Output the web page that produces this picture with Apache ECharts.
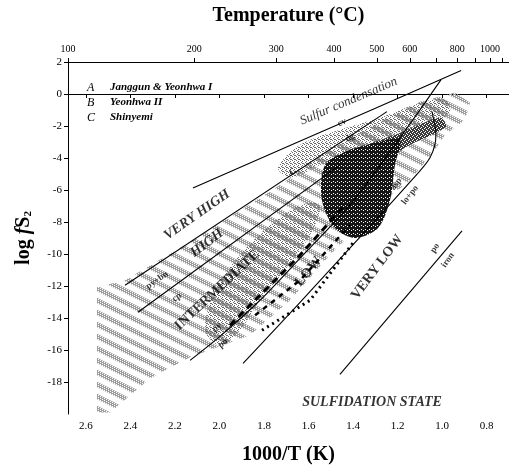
<!DOCTYPE html>
<html>
<head>
<meta charset="utf-8">
<script src="https://cdn.jsdelivr.net/npm/echarts@6/dist/echarts.min.js"></script>
<style>
html, body { margin: 0; padding: 0; background: #fff; }
#chart { width: 509px; height: 472px; }
</style>
</head>
<body>
<div id="chart"></div>
<script>
// axis ticks
const xTicks = [2.6, 2.4, 2.2, 2.0, 1.8, 1.6, 1.4, 1.2, 1.0, 0.8];
const yTicks = [2, 0, -2, -4, -6, -8, -10, -12, -14, -16, -18];
const tempTicks = [100, 200, 300, 400, 500, 600, 700, 800, 900, 1000, 1100];
const tempLabels = [100, 200, 300, 400, 500, 600, 800, 1000];

// boundary lines [1000/T, log fS2]
const sulfurLine = [[2.119, -5.87], [1.31, -0.95], [0.915, 1.47]];
const cvDgLine = [[2.424, -11.95], [1.248, -1.10]];
const pyBnCpLine = [[2.366, -13.64], [1.459, -4.43]];
const pyPoLine = [[2.132, -16.65], [1.998, -15.15], [1.818, -12.89], [1.638, -10.26], [1.414, -6.93], [1.212, -3.17], [1.099, -0.98], [1.005, 0.90]];
const aspLoPoLine = [[1.894, -16.84], [1.638, -13.02], [1.369, -8.94], [1.144, -5.49], [1.055, -3.99], [1.028, -2.55], [1.046, -1.10]];
const poIronLine = [[1.459, -17.53], [0.911, -8.56]];

// fluid paths (dashed)
const pathA = [[1.953, -14.46], [1.638, -10.07], [1.436, -6.93]];
const pathB = [[1.840, -13.83], [1.638, -11.64], [1.414, -8.19]];
const pathC = [[1.809, -14.77], [1.593, -12.89], [1.391, -9.13]];

// fields
const hatchBand = [[2.550, -12.08], [2.424, -11.64], [2.087, -8.88], [1.728, -5.68], [1.504, -3.49], [1.279, -1.73],
  [1.099, -0.48], [0.942, 0.09], [0.875, -0.54], [0.897, -1.61], [0.987, -2.55], [1.032, -3.49], [1.144, -5.37],
  [1.279, -6.93], [1.504, -10.07], [1.683, -12.89], [1.863, -15.08], [2.132, -16.46], [2.312, -17.78],
  [2.491, -19.91], [2.550, -19.91]];
const grayFieldTop = [[1.737, -4.61], [1.638, -3.17], [1.459, -2.23], [1.279, -1.48], [1.099, -0.54], [0.987, -0.35],
  [0.965, -1.10], [1.055, -2.11], [1.189, -2.86], [1.369, -3.49], [1.548, -4.43], [1.683, -5.24]];
const grayFieldLow = [[2.065, -14.77], [2.020, -12.26], [1.908, -10.07], [1.773, -8.19], [1.638, -6.93], [1.548, -6.93],
  [1.593, -8.82], [1.706, -11.01], [1.818, -12.89], [1.908, -14.77], [1.998, -15.71]];
const darkStreak = [[1.369, -3.49], [1.189, -2.42], [1.010, -1.48], [0.983, -2.04], [1.144, -3.17], [1.257, -3.99]];
const blackField = [[1.526, -4.43], [1.414, -3.49], [1.279, -2.98], [1.189, -2.86], [1.212, -4.43], [1.234, -6.62],
  [1.288, -8.38], [1.391, -9.00], [1.481, -8.38], [1.540, -6.62]];

// text on the diagram: [text, 1000/T, log fS2, angle, kind]
const annotations = [
  ['Sulfur condensation', 1.42, -0.45, 23, 'note'],
  ['cv', 1.45, -1.79, 25, 'phase'],
  ['dg', 1.414, -2.73, 35, 'phase'],
  ['VERY HIGH', 2.101, -7.56, 35, 'zoneI'],
  ['HIGH', 2.056, -9.32, 37, 'zoneI'],
  ['INTERMEDIATE', 2.011, -12.26, 43, 'zone'],
  ['LOW', 1.60, -11.1, 50, 'zone'],
  ['VERY LOW', 1.292, -10.82, 53, 'zone'],
  ['SULFIDATION STATE', 1.315, -19.29, 0, 'zoneI'],
  ['py+bn', 2.28, -11.64, 35, 'phase'],
  ['cp', 2.191, -12.70, 35, 'phase'],
  ['py', 2.011, -14.58, 40, 'phase'],
  ['po', 1.984, -15.59, 40, 'phase'],
  ['asp', 1.207, -5.62, 52, 'phase'],
  ['lo+po', 1.144, -6.31, 52, 'phase'],
  ['po', 1.032, -9.63, 55, 'phase'],
  ['iron', 0.974, -10.38, 55, 'phase'],
  ['C', 1.67, -4.87, 45, 'phase']
];

const legendKeys = ['A', 'B', 'C'];
const legendNames = ['Janggun & Yeonhwa I', 'Yeonhwa II', 'Shinyemi'];

const serif = "'Liberation Serif', 'DejaVu Serif', serif";
const textKinds = {
  note: { fontSize: 13, fontStyle: 'italic', fontWeight: 'normal' },
  phase: { fontSize: 9, fontStyle: 'normal', fontWeight: 'bold' },
  zone: { fontSize: 14, fontStyle: 'normal', fontWeight: 'bold' },
  zoneI: { fontSize: 14, fontStyle: 'italic', fontWeight: 'bold' }
};

// 斜条纹 / 点状纹理
function makeStripes() {
  const c = document.createElement('canvas');
  c.width = 24; c.height = 12;
  const g = c.getContext('2d');
  g.strokeStyle = '#9d9d9d';
  g.lineWidth = 5;
  [-12, 0, 12].forEach(dy => {
    g.beginPath(); g.moveTo(-2, dy - 1); g.lineTo(26, dy + 13); g.stroke();
  });
  for (let x = 0; x < 24; x++) {
    for (let y = 0; y < 12; y++) {
      if ((x + 2 * y) % 4 === 0) g.clearRect(x, y, 1, 1);
    }
  }
  return c;
}
function makeDots(bg, dot, spots) {
  const c = document.createElement('canvas');
  c.width = 4; c.height = 4;
  const g = c.getContext('2d');
  if (bg) { g.fillStyle = bg; g.fillRect(0, 0, 4, 4); }
  g.fillStyle = dot;
  spots.forEach(p => g.fillRect(p[0], p[1], 1, 1));
  return c;
}
const stripeFill = { image: makeStripes(), repeat: 'repeat' };
const grayFill = { image: makeDots(null, '#6a6a6a', [[0, 0], [2, 1], [1, 2], [3, 3], [2, 3]]), repeat: 'repeat' };
const streakFill = { image: makeDots('#3a3a3a', '#ffffff', [[0, 0], [2, 1], [1, 3], [3, 2]]), repeat: 'repeat' };
const blackFill = { image: makeDots('#161616', '#ffffff', [[1, 1], [3, 2]]), repeat: 'repeat' };

function fieldSeries(points, fill, z, smooth) {
  return {
    type: 'custom',
    data: points,
    encode: { x: 0, y: 1 },
    z: z,
    silent: true,
    clip: true,
    renderItem: function (params, api) {
      if (params.dataIndex !== 0) return { type: 'group', children: [] };
      return {
        type: 'polygon',
        shape: { points: points.map(p => api.coord(p)), smooth: smooth || 0 },
        style: { fill: fill }
      };
    }
  };
}

function lineSeries(points, width, type, smooth) {
  return {
    type: 'line',
    data: points,
    symbol: 'none',
    smooth: smooth || false,
    z: 4,
    silent: true,
    lineStyle: { color: '#000', width: width, type: type || 'solid' }
  };
}

const chart = echarts.init(document.getElementById('chart'));

const axisLine = { show: true, lineStyle: { color: '#000', width: 1 } };
const tickStyle = { show: true, length: 4, lineStyle: { color: '#000', width: 1 } };

chart.setOption({
  animation: false,
  backgroundColor: '#fff',
  grid: { left: 68, right: 0, top: 62, bottom: 58 },
  xAxis: [
    {
      type: 'value', position: 'bottom', min: 0.70, max: 2.68, inverse: true,
      axisLine: axisLine, splitLine: { show: false },
      axisTick: Object.assign({ customValues: xTicks }, tickStyle),
      axisLabel: {
        customValues: xTicks, margin: 7, color: '#000', fontSize: 11, fontFamily: serif,
        formatter: v => v.toFixed(1)
      },
      name: '1000/T (K)', nameLocation: 'middle', nameGap: 31,
      nameTextStyle: { fontSize: 20, fontWeight: 'bold', fontFamily: serif, color: '#000' }
    },
    {
      type: 'value', position: 'top', min: 0.70, max: 2.68, inverse: true,
      axisLine: axisLine, splitLine: { show: false },
      axisTick: Object.assign({ customValues: tempTicks.map(t => 1000 / (t + 273.15)) }, tickStyle),
      axisLabel: {
        customValues: tempLabels.map(t => 1000 / (t + 273.15)), margin: 8, color: '#000',
        fontSize: 10, fontFamily: serif,
        formatter: v => String(Math.round(1000 / v - 273.15))
      },
      name: 'Temperature (°C)', nameLocation: 'middle', nameGap: 36,
      nameTextStyle: { fontSize: 20, fontWeight: 'bold', fontFamily: serif, color: '#000' }
    }
  ],
  yAxis: {
    type: 'value', min: -20, max: 2,
    axisLine: axisLine, splitLine: { show: false },
    axisTick: Object.assign({ customValues: yTicks }, tickStyle),
    axisLabel: { customValues: yTicks, margin: 6, color: '#000', fontSize: 11, fontFamily: serif },
    name: '{a|log }{f|f}{a|S}{s|2}', nameLocation: 'middle', nameGap: 34,
    nameTextStyle: {
      color: '#000',
      rich: {
        a: { fontSize: 20, fontWeight: 'bold', fontFamily: serif, color: '#000' },
        f: { fontSize: 20, fontWeight: 'bold', fontStyle: 'italic', fontFamily: serif, color: '#000' },
        s: { fontSize: 11, fontWeight: 'bold', fontFamily: serif, color: '#000', verticalAlign: 'bottom', padding: [8, 0, 0, 0] }
      }
    }
  },
  graphic: legendKeys.map((k, i) => ({
    type: 'group', left: 87, top: 82 + i * 15,
    children: [
      { type: 'text', x: 0, y: 0, style: { text: k, font: 'italic 12px ' + serif, fill: '#000' } },
      { type: 'text', x: 23, y: 0, style: { text: legendNames[i], font: 'italic bold 11px ' + serif, fill: '#000' } }
    ]
  })),
  series: [
    fieldSeries(hatchBand, stripeFill, 1, 0),
    fieldSeries(grayFieldTop, grayFill, 2, 0.3),
    fieldSeries(grayFieldLow, grayFill, 2, 0.3),
    fieldSeries(darkStreak, streakFill, 3, 0.3),
    fieldSeries(blackField, blackFill, 3, 0.3),
    lineSeries(sulfurLine, 1.1, 'solid', 0.3),
    lineSeries(cvDgLine, 1.1),
    lineSeries(pyBnCpLine, 1.1),
    lineSeries(pyPoLine, 1.1, 'solid', 0.3),
    lineSeries(aspLoPoLine, 1.1, 'solid', 0.3),
    lineSeries(poIronLine, 1.1),
    lineSeries(pathA, 3, [7, 5]),
    lineSeries(pathB, 2.5, [5, 5]),
    lineSeries(pathC, 3, [2, 4]),
    {
      type: 'scatter',
      symbolSize: 0,
      z: 6,
      silent: true,
      data: annotations.map(a => ({
        name: a[0],
        value: [a[1], a[2]],
        label: Object.assign({
          show: true, position: 'inside', formatter: '{b}', rotate: a[3],
          color: '#000', fontFamily: serif
        }, textKinds[a[4]])
      }))
    }
  ]
});
</script>
</body>
</html>
